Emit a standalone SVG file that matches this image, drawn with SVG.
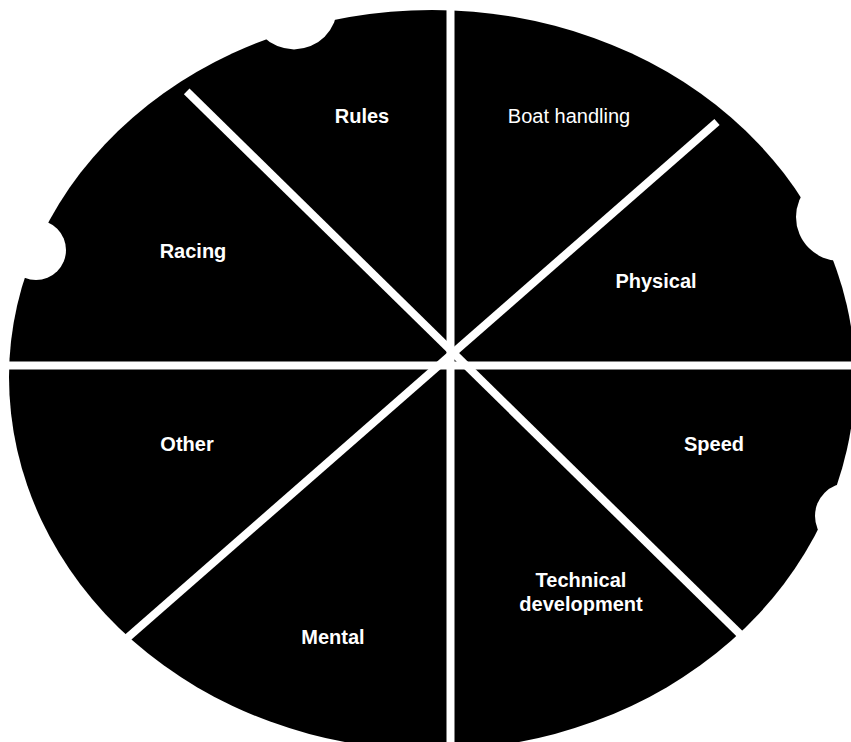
<svg xmlns="http://www.w3.org/2000/svg" width="851" height="742" viewBox="0 0 851 742">
<style>
.lbl{font-family:"Liberation Sans",Arial,sans-serif;font-size:20px;font-weight:bold;fill:#fff;text-anchor:middle}
.reg{font-weight:normal}
.gap{stroke:#fff;stroke-width:8;fill:none}
.notch{fill:#fff}
</style>
<rect width="851" height="742" fill="#fff"/>
<g id="body">
<path d="M9 377 A423 367 0 0 1 855 377 A423 373 0 0 1 9 377 Z" fill="#000"/>
<circle class="notch" cx="294" cy="6" r="43.4"/>
<circle class="notch" cx="36" cy="250" r="30"/>
<circle class="notch" cx="840" cy="217" r="44"/>
<circle class="notch" cx="848" cy="516" r="33"/>
</g>
<g id="connectors">
<line class="gap" x1="450.5" y1="0" x2="450.5" y2="742"/>
<line class="gap" x1="0" y1="365.5" x2="851" y2="365.5"/>
<line class="gap" x1="186.7" y1="91.3" x2="800" y2="693"/>
<line class="gap" x1="717" y1="122" x2="70" y2="688"/>
</g>
<g id="n-rules"><text class="lbl" x="362" y="123">Rules</text></g>
<g id="n-boat"><text class="lbl reg" x="569" y="123">Boat handling</text></g>
<g id="n-racing"><text class="lbl" x="193" y="258">Racing</text></g>
<g id="n-physical"><text class="lbl" x="656" y="288">Physical</text></g>
<g id="n-other"><text class="lbl" x="187" y="451">Other</text></g>
<g id="n-speed"><text class="lbl" x="714" y="451">Speed</text></g>
<g id="n-mental"><text class="lbl" x="333" y="644">Mental</text></g>
<g id="n-technical"><text class="lbl" x="581" y="587">Technical<tspan x="581" dy="24">development</tspan></text></g>
</svg>
